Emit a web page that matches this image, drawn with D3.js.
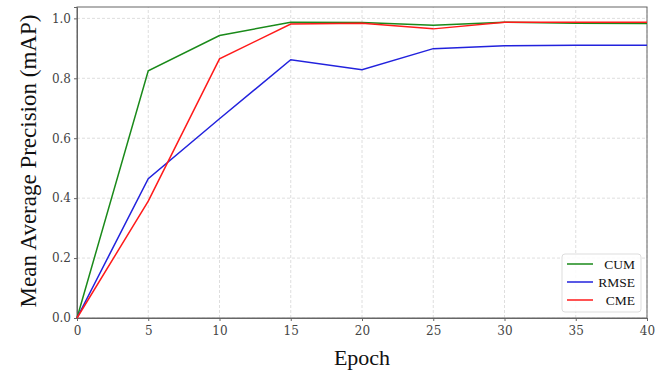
<!DOCTYPE html>
<html>
<head>
<meta charset="utf-8">
<script src="https://cdn.jsdelivr.net/npm/d3@7"></script>
<style>
    body { margin: 0; background: #fff; }
    svg { display: block; }
</style>
</head>
<body>
<div id="container"></div>
<script>
const epochs = [0, 5, 10, 15, 20, 25, 30, 35, 40];
const cumValues = [0, 0.825, 0.943, 0.987, 0.986, 0.977, 0.987, 0.984, 0.983];
const rmseValues = [0, 0.465, 0.665, 0.862, 0.829, 0.899, 0.909, 0.910, 0.910];
const cmeValues = [0, 0.39, 0.865, 0.981, 0.984, 0.965, 0.987, 0.987, 0.987];
const seriesNames = ["CUM", "RMSE", "CME"];
const seriesColors = ["#1a8a1a", "#2222dd", "#ff1a1a"];
const xTicks = [0, 5, 10, 15, 20, 25, 30, 35, 40];
const yTicks = [0, 0.2, 0.4, 0.6, 0.8, 1.0];

const width = 665, height = 372;
const margin = { top: 7, right: 18, bottom: 54, left: 77 };

const svg = d3.select("#container").append("svg")
    .attr("width", width)
    .attr("height", height);

const x = d3.scaleLinear().domain([0, 40]).range([margin.left, width - margin.right]);
const y = d3.scaleLinear().domain([0, 1.038]).range([height - margin.bottom, margin.top]);

// grid
svg.append("g")
    .selectAll("line.vgrid").data(xTicks).enter().append("line")
    .attr("x1", d => x(d)).attr("x2", d => x(d))
    .attr("y1", y.range()[0]).attr("y2", y.range()[1])
    .attr("stroke", "#d6d6d6").attr("stroke-width", 0.8)
    .attr("stroke-dasharray", "3,2");
svg.append("g")
    .selectAll("line.hgrid").data(yTicks).enter().append("line")
    .attr("x1", x.range()[0]).attr("x2", x.range()[1])
    .attr("y1", d => y(d)).attr("y2", d => y(d))
    .attr("stroke", "#d6d6d6").attr("stroke-width", 0.8)
    .attr("stroke-dasharray", "3,2");

// frame
svg.append("rect")
    .attr("x", x.range()[0]).attr("y", y.range()[1])
    .attr("width", x.range()[1] - x.range()[0])
    .attr("height", y.range()[0] - y.range()[1])
    .attr("fill", "none").attr("stroke", "#666").attr("stroke-width", 1);

// axes
const xAxis = svg.append("g")
    .attr("transform", `translate(0,${y.range()[0]})`)
    .call(d3.axisBottom(x).tickValues(xTicks).tickSize(3).tickFormat(d3.format("d")));
const yAxis = svg.append("g")
    .attr("transform", `translate(${x.range()[0]},0)`)
    .call(d3.axisLeft(y).tickValues(yTicks).tickSize(3).tickFormat(d3.format(".1f")));
[xAxis, yAxis].forEach(a => {
    a.select(".domain").attr("stroke", "#666");
    a.selectAll(".tick line").attr("stroke", "#666");
    a.selectAll(".tick text")
        .attr("fill", "#444")
        .style("font-family", "'DejaVu Serif', serif")
        .style("font-size", "12px");
});
xAxis.selectAll(".tick text").attr("dy", "0.95em");

// lines
const seriesData = [cumValues, rmseValues, cmeValues];
const line = d3.line()
    .x((d, i) => x(epochs[i]))
    .y(d => y(d));

svg.append("g")
    .selectAll("path").data(seriesData).enter().append("path")
    .attr("d", line)
    .attr("fill", "none")
    .attr("stroke", (d, i) => seriesColors[i])
    .attr("stroke-width", 1.5);

// axis titles
svg.append("text")
    .attr("x", (x.range()[0] + x.range()[1]) / 2)
    .attr("y", 365)
    .attr("text-anchor", "middle")
    .style("font-family", "'Liberation Serif', 'Times New Roman', serif")
    .style("font-size", "22px")
    .attr("fill", "#111")
    .text("Epoch");

svg.append("text")
    .attr("transform", "translate(36,161) rotate(-90)")
    .attr("text-anchor", "middle")
    .style("font-family", "'Liberation Serif', 'Times New Roman', serif")
    .style("font-size", "23px")
    .attr("fill", "#111")
    .text("Mean Average Precision (mAP)");

// legend
const legend = svg.append("g").attr("transform", "translate(562,254)");
legend.append("rect")
    .attr("width", 79).attr("height", 58).attr("rx", 3)
    .attr("fill", "#fff").attr("fill-opacity", 0.85)
    .attr("stroke", "#ddd");
const items = legend.selectAll("g.item").data(seriesNames).enter().append("g")
    .attr("transform", (d, i) => `translate(0,${10 + i * 18})`);
items.append("line")
    .attr("x1", 5).attr("x2", 31)
    .attr("stroke", (d, i) => seriesColors[i])
    .attr("stroke-width", 1.5);
items.append("text")
    .attr("x", 73).attr("y", 0).attr("dy", "0.35em")
    .attr("text-anchor", "end")
    .style("font-family", "'Liberation Serif', 'Times New Roman', serif")
    .style("font-size", "13.5px")
    .attr("fill", "#111")
    .text(d => d);
</script>
</body>
</html>
